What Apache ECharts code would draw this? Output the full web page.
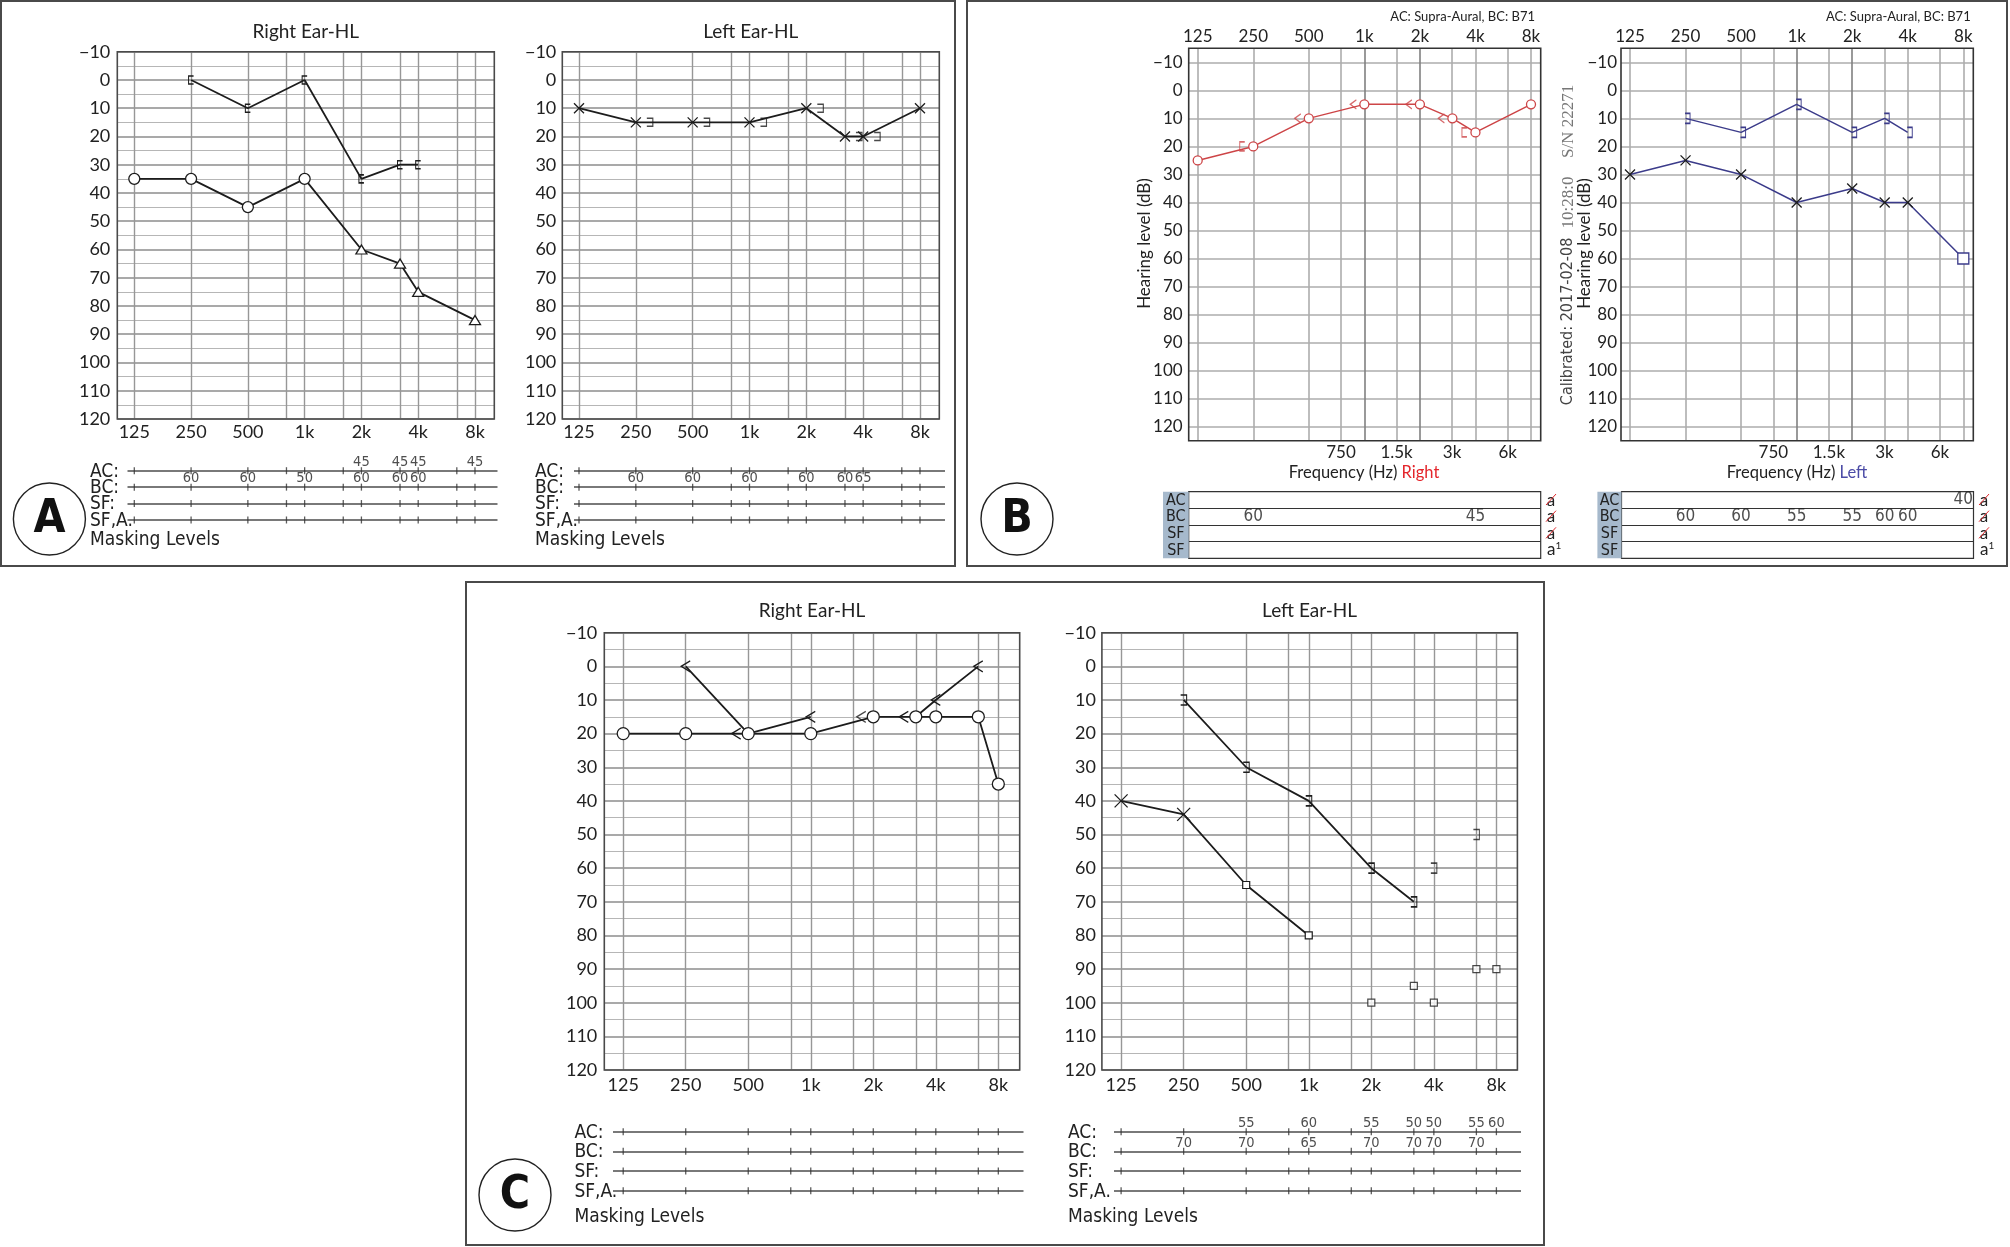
<!DOCTYPE html>
<html><head><meta charset="utf-8">
<script src="https://cdn.jsdelivr.net/npm/echarts@6/dist/echarts.min.js"></script>
<style>html,body{margin:0;padding:0;background:#fff}#c{width:2010px;height:1247px}</style>
</head><body><div id="c"></div>
<script>
// ================= DATA =================
const FREQS = [125, 250, 500, 750, 1000, 1500, 2000, 3000, 4000, 6000, 8000];
const OCTAVE_LABELS = ['125', '250', '500', '1k', '2k', '4k', '8k'];
const HALF_OCTAVE_LABELS = ['750', '1.5k', '3k', '6k'];
const MASK_ROWS = ['AC:', 'BC:', 'SF:', 'SF,A.'];
const B_ROWS = ['AC', 'BC', 'SF', 'SF'];

// Panel A  ([frequency Hz, dB HL])
const A_R_AC = [[125, 35], [250, 35], [500, 45], [1000, 35]];
const A_R_AC_MASKED = [[2000, 60], [3000, 65], [4000, 75], [8000, 85]];
const A_R_BC_MASKED = [[250, 0], [500, 10], [1000, 0], [2000, 35], [3000, 30], [4000, 30]];
const A_L_AC = [[125, 10], [250, 15], [500, 15], [1000, 15], [2000, 10], [3000, 20], [4000, 20], [8000, 10]];
const A_L_BC_MASKED = [[250, 15], [500, 15], [1000, 15], [2000, 10], [3000, 20], [4000, 20]];
const A_R_MASK_AC = [[2000, 45], [3000, 45], [4000, 45], [8000, 45]];
const A_R_MASK_BC = [[250, 60], [500, 60], [1000, 50], [2000, 60], [3000, 60], [4000, 60]];
const A_L_MASK_AC = [];
const A_L_MASK_BC = [[250, 60], [500, 60], [1000, 60], [2000, 60], [3000, 60], [4000, 65]];

// Panel B
const B_R_AC = [[125, 25], [250, 20], [500, 10], [1000, 5], [2000, 5], [3000, 10], [4000, 15], [8000, 5]];
const B_R_BC = [[500, 10], [1000, 5], [2000, 5], [3000, 10]];
const B_R_BC_MASKED = [[250, 20], [4000, 15]];
const B_L_AC = [[125, 30], [250, 25], [500, 30], [1000, 40], [2000, 35], [3000, 40], [4000, 40]];
const B_L_AC_MASKED = [[8000, 60]];
const B_L_BC_MASKED = [[250, 10], [500, 15], [1000, 5], [2000, 15], [3000, 10], [4000, 15]];
const B_R_MASK_AC = [];
const B_R_MASK_BC = [[250, 60], [4000, 45]];
const B_L_MASK_AC = [[8000, 40]];
const B_L_MASK_BC = [[250, 60], [500, 60], [1000, 55], [2000, 55], [3000, 60], [4000, 60]];

// Panel C
const C_R_AC = [[125, 20], [250, 20], [500, 20], [1000, 20], [2000, 15], [3000, 15], [4000, 15], [6000, 15], [8000, 35]];
const C_R_BC_1 = [[250, 0], [500, 20], [1000, 15]];
const C_R_BC_2 = [[2000, 15]];
const C_R_BC_3 = [[3000, 15], [4000, 10], [6000, 0]];
const C_L_AC = [[125, 40], [250, 44]];
const C_L_AC_MASKED = [[500, 65], [1000, 80]];
const C_L_AC_MASKED_2 = [[2000, 100], [3000, 95], [4000, 100], [6000, 90], [8000, 90]];
const C_L_BC_MASKED = [[250, 10], [500, 30], [1000, 40], [2000, 60], [3000, 70]];
const C_L_BC_MASKED_2 = [[4000, 60], [6000, 50]];
const C_R_MASK_AC = [];
const C_R_MASK_BC = [];
const C_L_MASK_AC = [[500, 55], [1000, 60], [2000, 55], [3000, 50], [4000, 50], [6000, 55], [8000, 60]];
const C_L_MASK_BC = [[250, 70], [500, 70], [1000, 65], [2000, 70], [3000, 70], [4000, 70], [6000, 70]];

// ================= LAYOUT / STYLE =================
const FONT = 'Lato, "Noto Sans", sans-serif';
const NARROW = '"Liberation Sans Narrow", "DejaVu Sans Condensed", "Roboto", sans-serif';
const BLACK = '#1c1c1c', RED = '#cd4547', BLUE = '#3b3b8a';
const HALF_AC = 0.68, HALF_B = Math.log2(1.5);

const P = {
  AR: {frame: [117.3, 51.7, 377, 367.3], x0: 134.3, oct: 56.78, half: HALF_AC, ymin: -10, ymax: 120},
  AL: {frame: [562.3, 51.7, 377, 367.3], x0: 579, oct: 56.83, half: HALF_AC, ymin: -10, ymax: 120},
  BR: {frame: [1188.7, 48.3, 352, 392.4], x0: 1197.7, oct: 55.55, half: HALF_B, ymin: -15, ymax: 125},
  BL: {frame: [1621, 48.3, 352.3, 392.4], x0: 1630, oct: 55.55, half: HALF_B, ymin: -15, ymax: 125},
  CR: {frame: [604.3, 632.7, 415.4, 437.3], x0: 623.2, oct: 62.52, half: HALF_AC, ymin: -10, ymax: 120},
  CL: {frame: [1101.9, 632.7, 415.5, 437.3], x0: 1121.1, oct: 62.55, half: HALF_AC, ymin: -10, ymax: 120}
};

function fpos(f, half) {
  const o = Math.log2(f / 125), r = Math.round(o);
  return Math.abs(o - r) < 1e-6 ? r : Math.floor(o) + half;
}
function dbFmt(v) { return v < 0 ? '\u2212' + Math.abs(v) : String(v); }

const grids = [], xAxes = [], yAxes = [], series = [], graphics = [];
function addGrid(g, x, y) {
  grids.push(g); const gi = grids.length - 1;
  x.gridIndex = gi; y.gridIndex = gi; xAxes.push(x); yAxes.push(y);
  return gi;
}

function audiogram(p, o) {
  const [fl, ft, fw, fh] = p.frame;
  const yAxis = o.b ? {
    type: 'value', inverse: true, min: p.ymin, max: p.ymax, interval: 5,
    axisLine: {show: false}, axisTick: {show: false},
    axisLabel: {margin: o.margin, fontSize: o.fs, fontFamily: FONT, color: '#222', formatter: v => (v % 10 === 0 ? dbFmt(v) : '')},
    splitLine: {show: true, lineStyle: {color: ['rgba(0,0,0,0)', o.hColor], width: o.hWidth}}
  } : {
    type: 'value', inverse: true, min: p.ymin, max: p.ymax, interval: 10,
    axisLine: {show: false}, axisTick: {show: false},
    axisLabel: {margin: o.margin, fontSize: o.fs, fontFamily: FONT, color: '#222', formatter: dbFmt},
    splitLine: {show: true, lineStyle: {color: o.hColor, width: o.hWidth}},
    minorTick: {show: false, splitNumber: 2},
    minorSplitLine: {show: true, lineStyle: {color: o.mColor, width: 1}}
  };
  const idx = addGrid({left: fl, top: ft, width: fw, height: fh, show: true, backgroundColor: '#fff', borderWidth: 0},
    {type: 'value', min: (fl - p.x0) / p.oct, max: (fl + fw - p.x0) / p.oct, show: false}, yAxis);
  series.push({type: 'line', xAxisIndex: idx, yAxisIndex: idx, data: [[0, p.ymin + 1]], symbol: 'none',
    lineStyle: {opacity: 0}, silent: true, z: 1,
    markLine: {silent: true, symbol: ['none', 'none'], label: {show: false}, animation: false,
      data: FREQS.map(f => ({xAxis: fpos(f, p.half), lineStyle: {type: 'solid', color: o.vColor(f), width: o.vWidth}}))}});
  graphics.push({type: 'rect', silent: true, z: 40, shape: {x: fl, y: ft, width: fw, height: fh},
    style: {fill: 'none', stroke: o.border, lineWidth: 1.6}});
  return idx;
}

function octaveAxis(p, where, margin, fs) {
  const [fl, ft, fw, fh] = p.frame;
  addGrid({left: p.x0, width: 6 * p.oct, top: where === 'top' ? ft : ft + fh - 1, height: 1},
    {type: 'value', min: 0, max: 6, interval: 1, position: where, axisLine: {show: false}, axisTick: {show: false},
      splitLine: {show: false},
      axisLabel: {show: true, margin, fontSize: fs, fontFamily: FONT, color: '#222', showMinLabel: true, showMaxLabel: true,
        formatter: v => { const r = Math.round(v); return Math.abs(v - r) < 0.05 && OCTAVE_LABELS[r] !== undefined ? OCTAVE_LABELS[r] : ''; }}},
    {type: 'value', show: false});
}
function halfAxis(p, margin, fs) {
  const [fl, ft, fw, fh] = p.frame;
  const mn = p.half - 1;
  addGrid({left: p.x0 + mn * p.oct, width: (6 - mn) * p.oct, top: ft + fh - 1, height: 1},
    {type: 'value', min: mn, max: 6, interval: 1, position: 'bottom', axisLine: {show: false}, axisTick: {show: false},
      splitLine: {show: false},
      axisLabel: {show: true, margin, fontSize: fs, fontFamily: FONT, color: '#222', showMinLabel: true, showMaxLabel: true,
        formatter: v => { const k = v - p.half, r = Math.round(k); return (Math.abs(k - r) < 0.05 && r >= 2 && r <= 5) ? HALF_OCTAVE_LABELS[r - 2] : ''; }}},
    {type: 'value', show: false});
}

const SYM = {
  circle: 'path://M10,5A5,5,0,1,1,0,5A5,5,0,1,1,10,5Z',
  tri: 'path://M5,0L10,9L0,9Z',
  x: 'path://M0,0L10,10M10,0L0,10',
  bl: 'path://M6,0L0,0L0,10L6,10',
  br: 'path://M0,0L6,0L6,10L0,10',
  lt: 'path://M8,0L0,5L8,10',
  sq: 'path://M0,0L10,0L10,10L0,10Z'
};
function sty(sym, size, stroke, fill, bw) { return {sym, size, stroke, fill: fill || 'none', bw: bw || 1.3}; }
function overlapOff(d, ref, dx) { return ref.some(r => r[0] === d[0] && r[1] === d[1]) ? [dx, 0] : [0, 0]; }
function mk(p, d, s, off) {
  return {value: [fpos(d[0], p.half), d[1]], symbol: s.sym, symbolSize: s.size, symbolOffset: off || [0, 0],
    itemStyle: {color: s.fill, borderColor: s.stroke, borderWidth: s.bw}};
}
function lineS(idx, data, color, width) {
  series.push({type: 'line', xAxisIndex: idx, yAxisIndex: idx, data, showAllSymbol: true, clip: false, silent: true, z: 5,
    lineStyle: {color, width}, emphasis: {disabled: true}});
}
function scatS(idx, data) {
  series.push({type: 'scatter', xAxisIndex: idx, yAxisIndex: idx, data, clip: false, silent: true, z: 6, emphasis: {disabled: true}});
}

function maskTable(p, t, acVals, bcVals) {
  const idx = addGrid({left: t.left, top: t.top, width: t.width, height: 3 * t.row},
    {type: 'value', min: (t.left - p.x0) / p.oct, max: (t.left + t.width - p.x0) / p.oct, show: false},
    {type: 'value', inverse: true, min: 0, max: 3, interval: 1, axisLine: {show: false}, axisTick: {show: false},
      axisLabel: {show: false},
      splitLine: {show: true, lineStyle: {color: '#4d4d4d', width: 1.6}}});
  MASK_ROWS.forEach((r, i) => graphics.push({type: 'text', x: t.labelX, y: t.top + i * t.row + 1, silent: true, z: 50,
    style: {text: r, fill: '#222', fontSize: 19, fontFamily: NARROW, align: 'left', verticalAlign: 'middle'}}));
  const ticks = [];
  MASK_ROWS.forEach((_, r) => FREQS.forEach(f => ticks.push([fpos(f, p.half), r])));
  series.push({type: 'scatter', xAxisIndex: idx, yAxisIndex: idx, data: ticks, symbol: 'rect', symbolSize: [1.3, 7],
    itemStyle: {color: '#333'}, silent: true, clip: false, z: 4});
  const nums = acVals.map(d => [fpos(d[0], p.half), 0, d[1]]).concat(bcVals.map(d => [fpos(d[0], p.half), 1, d[1]]));
  series.push({type: 'scatter', xAxisIndex: idx, yAxisIndex: idx, data: nums, symbolSize: 0.1, clip: false,
    itemStyle: {color: 'rgba(0,0,0,0)'}, silent: true, z: 5,
    label: {show: true, position: 'top', distance: 1, formatter: q => String(q.value[2]), fontSize: 14.5, fontFamily: NARROW, color: '#222'}});
  graphics.push({type: 'text', x: t.labelX, y: t.top + 3 * t.row + t.mlGap, silent: true, z: 50,
    style: {text: 'Masking Levels', fill: '#222', fontSize: 19, fontFamily: NARROW, align: 'left', verticalAlign: 'middle'}});
}

function bTable(p, t, acVals, bcVals) {
  const idx = addGrid({left: t.left, top: t.top, width: t.width, height: 4 * t.row, show: true, backgroundColor: '#fff',
      borderColor: '#333', borderWidth: 1.2},
    {type: 'value', min: (t.left - p.x0) / p.oct, max: (t.left + t.width - p.x0) / p.oct, show: false},
    {type: 'value', inverse: true, min: 0, max: 4, interval: 1, axisLine: {show: false}, axisTick: {show: false},
      axisLabel: {show: false}, splitLine: {show: true, lineStyle: {color: '#333', width: 1.2}}});
  const nums = acVals.map(d => [fpos(d[0], p.half), 0.5, d[1]]).concat(bcVals.map(d => [fpos(d[0], p.half), 1.5, d[1]]));
  series.push({type: 'scatter', xAxisIndex: idx, yAxisIndex: idx, data: nums, symbolSize: 0.1, clip: false,
    itemStyle: {color: 'rgba(0,0,0,0)'}, silent: true, z: 5,
    label: {show: true, position: 'inside', formatter: q => String(q.value[2]), fontSize: 17, fontFamily: NARROW, color: '#222'}});
  graphics.push({type: 'rect', silent: true, z: 30, shape: {x: t.colX, y: t.top, width: t.left - t.colX, height: 4 * t.row},
    style: {fill: '#a6b9cc', stroke: 'none'}});
  B_ROWS.forEach((r, i) => {
    const cy = t.top + t.row * (i + 0.5);
    graphics.push({type: 'text', x: (t.colX + t.left) / 2, y: cy + 0.5, silent: true, z: 51,
      style: {text: r, fill: '#222', fontSize: 16, fontFamily: NARROW, align: 'center', verticalAlign: 'middle'}});
    if (i < 3) {
      graphics.push({type: 'text', x: t.aX, y: cy, silent: true, z: 51,
        style: {text: 'a', fill: '#222', fontSize: 17, fontFamily: FONT, align: 'center', verticalAlign: 'middle'}});
      graphics.push({type: 'line', silent: true, z: 52, shape: {x1: t.aX - 5, y1: cy + 5, x2: t.aX + 5, y2: cy - 6},
        style: {stroke: '#e0262a', lineWidth: 1}});
    } else {
      graphics.push({type: 'text', x: t.aX - 4, y: cy, silent: true, z: 51,
        style: {text: '{a|a}{s|1}', fill: '#222', align: 'left', verticalAlign: 'middle',
          rich: {a: {fontSize: 17, fontFamily: FONT, fill: '#222'}, s: {fontSize: 10, fontFamily: FONT, fill: '#222', verticalAlign: 'top', padding: [0, 0, 8, 0]}}}});
    }
  });
}

function txt(x, y, text, o) {
  o = o || {};
  graphics.push({type: 'text', x, y, rotation: o.rot || 0, silent: true, z: 50,
    style: {text, fill: o.color || '#222', fontSize: o.fs || 18, fontFamily: o.ff || FONT, fontWeight: o.fw || 'normal',
      align: o.align || 'center', verticalAlign: 'middle', rich: o.rich}});
}

// ================= PANEL A =================
const acOpt = {fs: 18, hColor: '#8c8c8c', hWidth: 1.5, mColor: '#b6b6b6', vColor: () => '#979797', vWidth: 1.4, border: '#4a4a4a'};
const iAR = audiogram(P.AR, Object.assign({margin: 7}, acOpt));
const iAL = audiogram(P.AL, Object.assign({margin: 6}, acOpt));
octaveAxis(P.AR, 'bottom', 4, 18);
octaveAxis(P.AL, 'bottom', 4, 18);
const SA = {circle: sty(SYM.circle, 11, BLACK, '#fff'), tri: sty(SYM.tri, [11, 9], BLACK, '#fff'),
  bl: sty(SYM.bl, [5, 8], BLACK), br: sty(SYM.br, [6, 8], BLACK), x: sty(SYM.x, 10, BLACK)};
lineS(iAR, A_R_AC.map(d => mk(P.AR, d, SA.circle)).concat(A_R_AC_MASKED.map(d => mk(P.AR, d, SA.tri))), BLACK, 1.8);
lineS(iAR, A_R_BC_MASKED.map(d => mk(P.AR, d, SA.bl, overlapOff(d, A_R_AC.concat(A_R_AC_MASKED), -12))), BLACK, 1.8);
lineS(iAL, A_L_AC.map(d => mk(P.AL, d, SA.x)), BLACK, 1.8);
scatS(iAL, A_L_BC_MASKED.map(d => mk(P.AL, d, SA.br, overlapOff(d, A_L_AC, 14))));
maskTable(P.AR, {left: 127.5, width: 370, top: 470.7, row: 16.43, labelX: 90, mlGap: 20}, A_R_MASK_AC, A_R_MASK_BC);
maskTable(P.AL, {left: 574, width: 371, top: 470.7, row: 16.43, labelX: 535, mlGap: 20}, A_L_MASK_AC, A_L_MASK_BC);
txt(305.8, 32, 'Right Ear-HL', {fs: 19});
txt(750.8, 32, 'Left Ear-HL', {fs: 19});

// ================= PANEL B =================
const bOpt = {b: true, fs: 17, hColor: '#adadad', hWidth: 1.6, vColor: f => (f === 1000 || f === 2000 ? '#808080' : '#adadad'), vWidth: 1.6, border: '#333'};
const iBR = audiogram(P.BR, Object.assign({margin: 6}, bOpt));
const iBL = audiogram(P.BL, Object.assign({margin: 4}, bOpt));
octaveAxis(P.BR, 'top', 3, 17);
octaveAxis(P.BL, 'top', 3, 17);
halfAxis(P.BR, 3, 17);
halfAxis(P.BL, 3, 17);
const SB = {circle: sty(SYM.circle, 9, RED, '#fff'), lt: sty(SYM.lt, [6, 9], RED), bl: sty(SYM.bl, [5, 9], RED),
  x: sty(SYM.x, 10, BLACK), sq: sty(SYM.sq, 11, BLUE, '#fff'), br: sty(SYM.br, [5, 10], BLUE)};
lineS(iBR, B_R_AC.map(d => mk(P.BR, d, SB.circle)), RED, 1.5);
scatS(iBR, B_R_BC.map(d => mk(P.BR, d, SB.lt, overlapOff(d, B_R_AC, -11))));
scatS(iBR, B_R_BC_MASKED.map(d => mk(P.BR, d, SB.bl, overlapOff(d, B_R_AC, -11))));
lineS(iBL, B_L_AC.map(d => mk(P.BL, d, SB.x)).concat(B_L_AC_MASKED.map(d => mk(P.BL, d, SB.sq))), BLUE, 1.5);
lineS(iBL, B_L_BC_MASKED.map(d => mk(P.BL, d, SB.br, [2, 0])), BLUE, 1.5);
bTable(P.BR, {left: 1188.7, width: 352, top: 491.7, row: 16.65, colX: 1163, aX: 1551}, B_R_MASK_AC, B_R_MASK_BC);
bTable(P.BL, {left: 1621.5, width: 352, top: 491.7, row: 16.65, colX: 1597.4, aX: 1984}, B_L_MASK_AC, B_L_MASK_BC);
txt(1535, 16.7, 'AC: Supra-Aural, BC: B71', {fs: 13, align: 'right'});
txt(1970.7, 16.7, 'AC: Supra-Aural, BC: B71', {fs: 13, align: 'right'});
txt(1144.3, 243.5, 'Hearing level (dB)', {fs: 17, rot: Math.PI / 2});
txt(1585, 243.5, 'Hearing level (dB)', {fs: 17, rot: Math.PI / 2});
txt(1568.3, 245, '{s|Calibrated: 2017-02-08}  {t|10:28:0}    {t|S/N 22271}', {rot: Math.PI / 2,
  rich: {s: {fontSize: 16, fontFamily: NARROW, fill: '#444'}, t: {fontSize: 17, fontFamily: '"Liberation Serif", serif', fill: '#777'}}});
txt(1364, 473, '{a|Frequency (Hz) }{r|Right}', {rich: {a: {fontSize: 16.5, fontFamily: FONT, fill: '#222'}, r: {fontSize: 16.5, fontFamily: FONT, fill: '#e4262c'}}});
txt(1797, 473, '{a|Frequency (Hz) }{r|Left}', {rich: {a: {fontSize: 16.5, fontFamily: FONT, fill: '#222'}, r: {fontSize: 16.5, fontFamily: FONT, fill: '#4b4ba6'}}});

// ================= PANEL C =================
const iCR = audiogram(P.CR, Object.assign({margin: 7}, acOpt));
const iCL = audiogram(P.CL, Object.assign({margin: 6}, acOpt));
octaveAxis(P.CR, 'bottom', 6, 18);
octaveAxis(P.CL, 'bottom', 6, 18);
const SC = {circle: sty(SYM.circle, 12, BLACK, '#fff'), lt: sty(SYM.lt, [9, 11], BLACK), x: sty(SYM.x, 13, BLACK),
  sq: sty(SYM.sq, 7, BLACK, '#fff', 1.2), br: sty(SYM.br, [6, 10], BLACK)};
lineS(iCR, C_R_AC.map(d => mk(P.CR, d, SC.circle)), BLACK, 1.8);
lineS(iCR, C_R_BC_1.map(d => mk(P.CR, d, SC.lt, overlapOff(d, C_R_AC, -12))), BLACK, 1.8);
scatS(iCR, C_R_BC_2.map(d => mk(P.CR, d, SC.lt, overlapOff(d, C_R_AC, -12))));
lineS(iCR, C_R_BC_3.map(d => mk(P.CR, d, SC.lt, overlapOff(d, C_R_AC, -12))), BLACK, 1.8);
lineS(iCL, C_L_AC.map(d => mk(P.CL, d, SC.x)).concat(C_L_AC_MASKED.map(d => mk(P.CL, d, SC.sq))), BLACK, 1.8);
scatS(iCL, C_L_AC_MASKED_2.map(d => mk(P.CL, d, SC.sq)));
lineS(iCL, C_L_BC_MASKED.map(d => mk(P.CL, d, SC.br)), BLACK, 1.8);
scatS(iCL, C_L_BC_MASKED_2.map(d => mk(P.CL, d, SC.br)));
maskTable(P.CR, {left: 613, width: 410.5, top: 1131.7, row: 19.67, labelX: 574.4, mlGap: 26}, C_R_MASK_AC, C_R_MASK_BC);
maskTable(P.CL, {left: 1114, width: 407, top: 1131.7, row: 19.67, labelX: 1068, mlGap: 26}, C_L_MASK_AC, C_L_MASK_BC);
txt(812, 610.7, 'Right Ear-HL', {fs: 19});
txt(1309.6, 610.5, 'Left Ear-HL', {fs: 19});

// ================= BOXES & PANEL LETTERS =================
[[1, 1, 954, 565], [967, 1, 1040, 565], [466, 582, 1078, 663]].forEach(b => graphics.push({type: 'rect', silent: true, z: 10,
  shape: {x: b[0], y: b[1], width: b[2], height: b[3]}, style: {fill: 'none', stroke: '#4a4a4a', lineWidth: 2}}));
[['A', 49.4, 519], ['B', 1017, 519], ['C', 515, 1195]].forEach(c => {
  graphics.push({type: 'circle', silent: true, z: 45, shape: {cx: c[1], cy: c[2], r: 36}, style: {fill: '#fff', stroke: '#222', lineWidth: 1.4}});
  txt(c[1], c[2] + 1, c[0], {fs: 46, fw: 'bold', ff: NARROW, color: '#111'});
});

const chart = echarts.init(document.getElementById('c'), null, {renderer: 'canvas'});
chart.setOption({animation: false, backgroundColor: '#fff', grid: grids, xAxis: xAxes, yAxis: yAxes, series, graphic: {elements: graphics}});
</script></body></html>
